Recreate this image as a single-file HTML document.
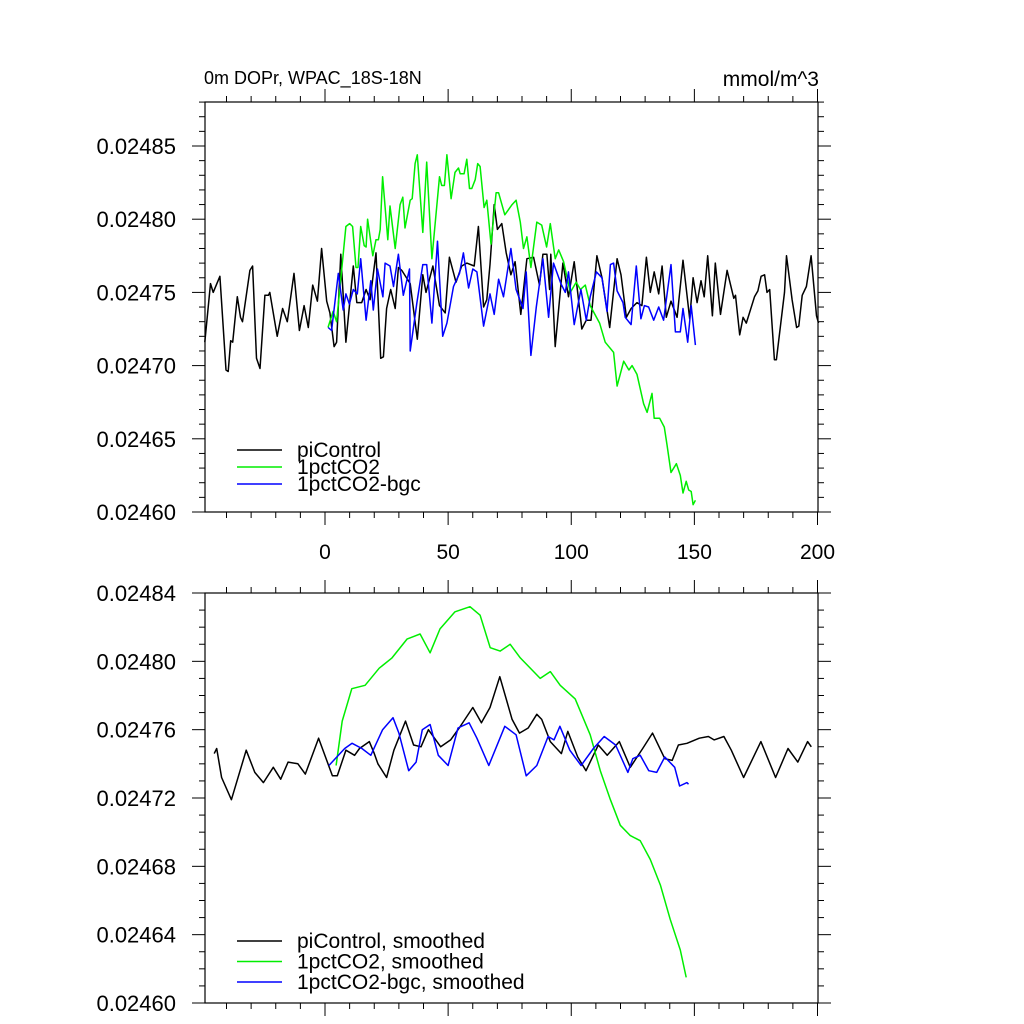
<!DOCTYPE html>
<html><head><meta charset="utf-8"><style>
html,body{margin:0;padding:0;background:#fff;}
svg{display:block;font-family:"Liberation Sans",sans-serif;}
</style></head><body>
<svg id="chart" width="1024" height="1024" viewBox="0 0 1024 1024">
<text x="204" y="84" font-size="18">0m DOPr, WPAC_18S-18N</text>
<text x="819" y="86" font-size="21" text-anchor="end">mmol/m^3</text>
<g id="top"></g>
<g id="bot"></g>
</svg>
<script>
// values in units of 1e-6 mmol/m^3
const piYears=[-48.8,-46.5,-45.4,-42.7,-40.2,-39.3,-38.3,-37.5,-35.6,-34.3,-33.5,-30.5,-29.4,-27.8,-26.4,-24.4,-23,-22.4,-19.4,-17.2,-15.3,-12.6,-10.4,-8.5,-6.8,-5,-3.1,-1.4,0.7,2,3.7,4.7,6.4,8.5,11.5,12.9,14.9,16.7,18.3,20.7,22.6,23.7,25,26.7,28.5,29.8,31.2,34.6,37.5,39.7,41,43.8,46.5,48.8,50.5,53.2,55.5,57.6,60.6,62.3,64.4,65.7,67,68.7,70,71.8,73.6,75.5,77.2,79.5,82,84.7,87.1,88.5,90.1,91.2,91.7,93.5,96.6,98.9,101.2,104.3,106.1,108,110.4,112.5,115.6,118.6,120.2,122.4,124.3,126.7,128.7,130.5,132.1,133.7,135.5,136.9,138.6,140.5,143,145.4,148.1,149.5,151.1,152.7,154,155.4,157.3,158.5,160.6,163.3,166,166.7,168.4,169.8,171.1,174.4,175.8,177.1,178.5,179.5,180.6,182.5,183.3,186.6,187.4,189.7,191.5,192.4,193.8,195.5,197.4,199.6,200.4];
const piValues=[24716,24756,24750,24761,24697,24696,24717,24716,24747,24733,24730,24765,24768,24705,24698,24748,24748,24750,24720,24739,24730,24763,24724,24741,24726,24755,24744,24780,24744,24736,24713,24716,24776,24716,24768,24743,24743,24752,24745,24777,24705,24706,24739,24752,24739,24767,24765,24756,24718,24762,24750,24768,24741,24736,24774,24757,24768,24770,24768,24795,24740,24745,24769,24810,24793,24797,24777,24762,24771,24735,24773,24774,24755,24776,24776,24752,24776,24713,24770,24747,24771,24725,24731,24731,24775,24760,24726,24773,24762,24733,24739,24743,24741,24774,24750,24764,24749,24768,24733,24744,24733,24772,24732,24760,24743,24758,24747,24775,24734,24770,24735,24765,24746,24748,24721,24733,24729,24747,24751,24761,24762,24750,24752,24704,24704,24750,24775,24745,24726,24727,24748,24754,24775,24734,24729];
const co2Years=[1.2,3.3,4.7,8.5,10,11.2,12.6,13.4,14.5,15.9,16.7,17.3,19.4,20.7,21.7,22.4,23.4,25.5,26.4,28.5,30.5,31.6,32.5,34.6,35.4,36.6,37.5,39.7,41.3,43.4,46.5,47.4,48.5,49.5,51.2,52.8,54.2,54.9,56.5,57.6,58.7,59.6,61,62,63,64.6,65.7,67.4,69.5,70.5,73,76,77.6,79.3,80.6,82,83.6,86,88,90,91.5,93.5,94.9,96.9,99.6,102,103.7,105.7,107.7,111.5,113.8,117.2,118.6,121.3,123.4,124.7,126.7,129.4,130.8,132.8,133.7,135.9,137.8,138.9,140.5,142.7,144.3,145.4,146.7,147.7,148.7,149.5,150.4];
const co2Values=[24726,24737,24730,24795,24797,24795,24767,24767,24795,24782,24781,24800,24775,24786,24786,24793,24829,24786,24809,24780,24810,24815,24794,24813,24814,24838,24844,24791,24839,24773,24829,24823,24823,24844,24814,24832,24835,24831,24831,24841,24821,24821,24827,24838,24836,24808,24813,24783,24818,24818,24803,24810,24813,24798,24780,24788,24767,24798,24796,24781,24797,24773,24779,24771,24750,24757,24752,24755,24741,24729,24716,24709,24686,24703,24697,24700,24694,24674,24668,24681,24664,24664,24658,24646,24627,24633,24625,24613,24621,24615,24614,24605,24608];
const bgcYears=[1.3,2.7,5.4,7.4,8.5,9.9,11.5,13.1,14.5,16.7,18.6,19.6,21.3,23.5,24.4,26.4,27.8,29.8,31.8,34.3,34.6,37.3,39.7,41.3,43.4,45.7,47.8,49.5,52.2,54.6,56.2,58.3,60,61.7,64.4,67,68.7,70.5,72.5,75.5,77.6,80.4,81.7,83.6,85.8,88.5,90.8,92.8,95.8,97.6,98.9,101.2,103.9,106.1,107.7,110.2,112.5,114.5,115.9,117.2,118.6,121,121.9,124.3,126.4,128.3,129.7,131.4,133.5,135.5,137.5,140.5,142.3,144.3,145.4,147.3,148.7,150.4];
const bgcValues=[24726,24724,24763,24738,24749,24742,24752,24749,24773,24731,24758,24738,24766,24747,24770,24768,24754,24776,24748,24766,24710,24743,24769,24769,24729,24785,24720,24729,24754,24763,24777,24753,24766,24764,24727,24749,24735,24759,24747,24780,24752,24739,24764,24707,24740,24773,24733,24770,24756,24750,24764,24728,24752,24731,24747,24764,24760,24737,24769,24770,24751,24743,24733,24728,24768,24732,24741,24740,24731,24740,24731,24769,24723,24723,24739,24716,24741,24714];
// smoothed (bottom panel)
const piSmYears=[-45,-44,-42,-38,-32,-28.5,-25,-21,-18,-15,-11,-8,-2.6,3,5,8.5,12,14,18,20,21.5,25,28,32.7,36,39,42,47,51,54.5,60,63.5,67,71,76,79,82.5,86,88,91.5,96,98.6,102.6,106,111,114.6,119.5,124,129,133,138,141,143.5,147,152,155.7,158,162,165,170,177,183,188,192,196,197.5];
const piSmValues=[24746,24749,24732,24719,24748,24735,24729,24738,24731,24741,24740,24734,24755,24733,24733,24748,24745,24749,24753,24746,24740,24732,24748,24765,24751,24750,24760,24750,24754,24761,24773,24764,24773,24791,24766,24758,24761,24769,24766,24753,24746,24759,24744,24736,24751,24745,24753,24738,24749,24758,24743,24742,24751,24752,24755,24756,24754,24756,24748,24732,24753,24732,24749,24741,24753,24750];
const co2SmYears=[4.5,7,10.9,16.3,22,27.2,33.3,38.6,42.7,46.7,52.8,58.9,63,67.1,71.1,75.2,79.3,87.4,91.5,95.5,101.6,107.7,111.8,115.9,119.9,124,128,132.1,136.2,140.2,144.3,146.7];
const co2SmValues=[24739,24765,24784,24786,24796,24802,24813,24816,24805,24819,24829,24832,24827,24808,24806,24810,24802,24790,24794,24786,24778,24757,24736,24719,24704,24698,24695,24684,24669,24649,24631,24615];
const bgcSmYears=[1.6,8,11,15,18.6,23.4,27.6,30,34,37,39.5,42.7,46,50,54,58.5,61.7,66.5,73,77.6,81.7,86,90.6,93,95.4,99.4,104,109,113.4,118,123,125,128,131.5,134.7,138,142,144,147,147.6];
const bgcSmValues=[24739,24749,24752,24749,24745,24760,24767,24758,24736,24741,24760,24763,24745,24739,24761,24764,24755,24739,24762,24757,24733,24739,24756,24754,24762,24748,24739,24749,24756,24751,24735,24743,24745,24736,24735,24744,24738,24727,24729,24728];
const topYTicks=[24600,24650,24700,24750,24800,24850];
const botYTicks=[24600,24640,24680,24720,24760,24800,24840];
const xTicks=[0,50,100,150,200];
const topLegend=["piControl","1pctCO2","1pctCO2-bgc"];
const botLegend=["piControl, smoothed","1pctCO2, smoothed","1pctCO2-bgc, smoothed"];

const NS="http://www.w3.org/2000/svg";
function mk(parent,tag,attrs){const e=document.createElementNS(NS,tag);for(const k in attrs)e.setAttribute(k,attrs[k]);parent.appendChild(e);return e;}
const L=205,R=818;
const xs=v=>325+(v-0)*2.4625;
function panel(g,top,bot,ymin,ymax,ytick,yminor,showX,series,legend,legY,legStep){
  const ys=v=>bot-(v-ymin)/(ymax-ymin)*(bot-top);
  const fr=mk(g,'rect',{x:L,y:top,width:R-L,height:bot-top,fill:'none',stroke:'#000','stroke-width':1.2});
  
  
  for(let t=-40;t<=200;t+=10){
    const x=xs(t);const major=t%50===0;const len=major?13:6;
    const a=mk(g,'line',{x1:x,x2:x,y1:top,y2:top-len,stroke:'#000','stroke-width':1});
    
    
    const b=mk(g,'line',{x1:x,x2:x,y1:bot,y2:bot+len,stroke:'#000','stroke-width':1});
    
    
  }
  if(showX){xTicks.forEach(t=>{const tx=mk(g,'text',{x:xs(t),y:bot+47,'font-size':21,'text-anchor':'middle'});tx.textContent=String(t);
    
    });}
  for(let v=ytick[0];ys(v)>=top-0.5;v+=yminor){
    const y=ys(v);const major=ytick.some(t=>Math.abs(t-v)<0.01);const len=major?13:6;
    const a=mk(g,'line',{x1:L,x2:L-len,y1:y,y2:y,stroke:'#000','stroke-width':1});
    
    
    const b=mk(g,'line',{x1:R,x2:R+len,y1:y,y2:y,stroke:'#000','stroke-width':1});
    
    
  }
  ytick.forEach(t=>{const y=ys(t);if(y<top-1)return;const tx=mk(g,'text',{x:176,y:y+8,'font-size':22,'text-anchor':'end'});tx.textContent=(t/1e6).toFixed(5);
    
    });
  series.forEach((s,i)=>{
    let d='';s.x.forEach((xv,j)=>{d+=(j?'L':'M')+xs(xv).toFixed(1)+','+ys(s.y[j]).toFixed(1);});
    const p=mk(g,'path',{d:d,fill:'none',stroke:s.c,'stroke-width':1.5,'stroke-linejoin':'round'});
    
    
    const ly=legY+i*legStep;
    const ll=mk(g,'line',{x1:237,x2:282,y1:ly,y2:ly,stroke:s.c,'stroke-width':1.5});
    
    
    const lt=mk(g,'text',{x:297,y:ly+7,'font-size':21});lt.textContent=legend[i];
    
    
  });
}
panel(document.getElementById('top'),102,512,24600,24600+410/1.464,topYTicks,10,true,
 [{x:piYears,y:piValues,c:'#000',n:'picontrol-line'},{x:co2Years,y:co2Values,c:'#00ee00',n:'1pctco2-line'},{x:bgcYears,y:bgcValues,c:'#0000ff',n:'1pctco2-bgc-line'}],
 topLegend,450,17);
panel(document.getElementById('bot'),593,1003,24600,24840,botYTicks,10,false,
 [{x:piSmYears,y:piSmValues,c:'#000',n:'picontrol-smoothed-line'},{x:co2SmYears,y:co2SmValues,c:'#00ee00',n:'1pctco2-smoothed-line'},{x:bgcSmYears,y:bgcSmValues,c:'#0000ff',n:'1pctco2-bgc-smoothed-line'}],
 botLegend,941,20.5);
</script>
</body></html>
